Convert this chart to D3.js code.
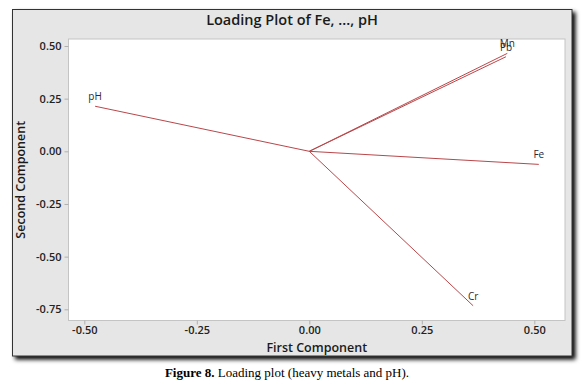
<!DOCTYPE html>
<html><head><meta charset="utf-8">
<script src="https://cdn.jsdelivr.net/npm/d3@7"></script>
<style>body{margin:0;background:#fff}svg{display:block}</style>
</head><body>
<svg id="c" width="584" height="383"></svg>
<script>
const variables = ["Fe", "Mn", "Pb", "Cr", "pH"];
const firstComp = [0.510, 0.440, 0.437, 0.364, -0.476];
const secondComp = [-0.062, 0.465, 0.449, -0.733, 0.214];
const xTicks = [-0.50, -0.25, 0.00, 0.25, 0.50];
const yTicks = [0.50, 0.25, 0.00, -0.25, -0.50, -0.75];

const svg = d3.select("#c");
const frame = {x: 12.5, y: 9.5, w: 559.5, h: 346.5};
const plot = {l: 68.5, t: 39, r: 565, b: 320.5};
const fmt = d => d.toFixed(2);

const defs = svg.append("defs");
const f = defs.append("filter").attr("id","sh").attr("x","-5%").attr("y","-5%").attr("width","115%").attr("height","115%");
f.append("feGaussianBlur").attr("in","SourceAlpha").attr("stdDeviation",2);
f.append("feOffset").attr("dx",3).attr("dy",3).attr("result","b");
const fm = f.append("feMerge");
fm.append("feMergeNode").attr("in","b");
fm.append("feMergeNode").attr("in","SourceGraphic");

svg.append("rect").attr("x",frame.x).attr("y",frame.y).attr("width",frame.w).attr("height",frame.h)
  .attr("fill","#e6e6e6").attr("stroke","#333").attr("stroke-width",1).attr("filter","url(#sh)");

svg.append("rect").attr("x",plot.l).attr("y",plot.t).attr("width",plot.r-plot.l).attr("height",plot.b-plot.t)
  .attr("fill","#fff").attr("stroke","#c4c4c4").attr("stroke-width",1);

const x = d3.scaleLinear().domain([-0.5, 0.5]).range([84.3, 534.3]);
const y = d3.scaleLinear().domain([0.5, -0.75]).range([46, 309.3]);

const xAxis = svg.append("g").attr("transform",`translate(0,${plot.b})`)
  .call(d3.axisBottom(x).tickValues(xTicks).tickFormat(fmt).tickSizeOuter(0).tickSize(4).tickPadding(2));
const yAxis = svg.append("g").attr("transform",`translate(${plot.l},0)`)
  .call(d3.axisLeft(y).tickValues(yTicks).tickFormat(fmt).tickSizeOuter(0).tickSize(4).tickPadding(3));
[xAxis,yAxis].forEach(a=>{
  a.select(".domain").remove();
  a.selectAll(".tick line").attr("stroke","#b0b0b0");
  a.selectAll(".tick text").attr("fill","#222").attr("font-family","'Open Sans', sans-serif")
   .attr("font-size",11).attr("font-weight",600);
});

const data = variables.map((v,i)=>({name:v, a:firstComp[i], b:secondComp[i]}));

svg.append("g").selectAll("line").data(data).join("line")
  .attr("x1",x(0)).attr("y1",y(0))
  .attr("x2",d=>x(d.a)).attr("y2",d=>y(d.b))
  .attr("stroke","#b8474a").attr("stroke-width",1);

svg.append("g").selectAll("text").data(data).join("text")
  .attr("x",d=>x(d.a)).attr("y",d=>y(d.b)-6)
  .attr("text-anchor","middle")
  .attr("font-family","'Open Sans', sans-serif").attr("font-size",10)
  .attr("fill","#2a2a3a")
  .text(d=>d.name);

svg.append("text").attr("x",292).attr("y",25).attr("text-anchor","middle")
  .attr("font-family","'Open Sans', sans-serif").attr("font-size",14.5).attr("font-weight",600)
  .attr("fill","#1a1a1a").text("Loading Plot of Fe, ..., pH");

svg.append("text").attr("x",(plot.l+plot.r)/2).attr("y",352).attr("text-anchor","middle")
  .attr("font-family","'Open Sans', sans-serif").attr("font-size",12.5).attr("font-weight",600)
  .attr("fill","#1a1a1a").text("First Component");

svg.append("text").attr("transform",`translate(25,${(plot.t+plot.b)/2}) rotate(-90)`).attr("text-anchor","middle")
  .attr("font-family","'Open Sans', sans-serif").attr("font-size",12.5).attr("font-weight",600)
  .attr("fill","#1a1a1a").text("Second Component");

const cap = svg.append("text").attr("x",287).attr("y",377).attr("text-anchor","middle")
  .attr("font-family","'Liberation Serif', serif").attr("font-size",13).attr("fill","#000");
cap.append("tspan").attr("font-weight","bold").text("Figure 8.");
cap.append("tspan").text(" Loading plot (heavy metals and pH).");
</script>
</body></html>
